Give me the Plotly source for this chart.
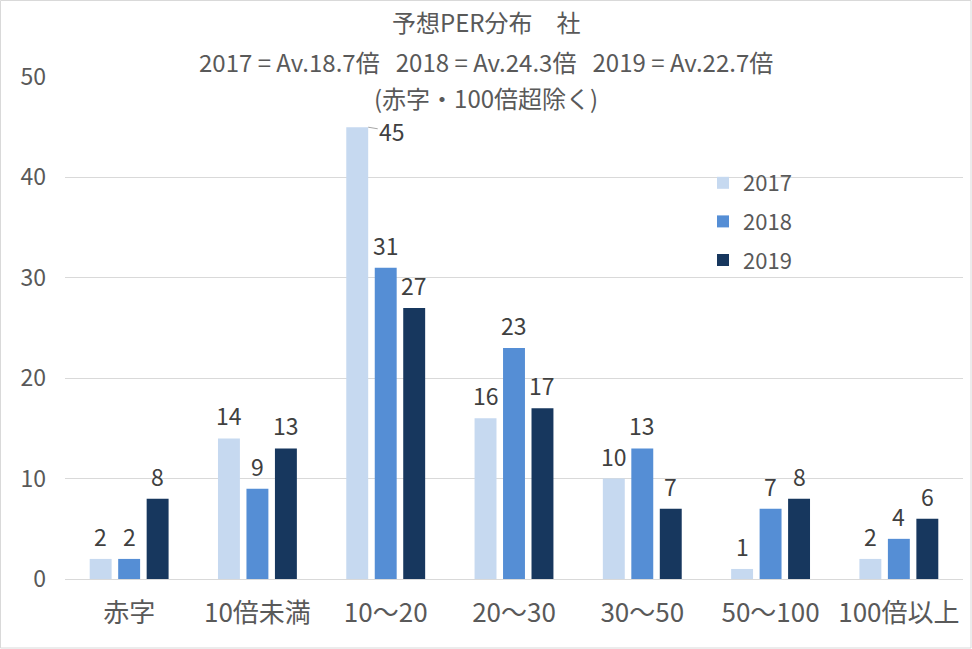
import plotly.graph_objects as go

# PER buckets and company counts per year
categories = ["赤字", "10倍未満", "10〜20", "20〜30", "30〜50", "50〜100", "100倍以上"]
years = ["2017", "2018", "2019"]
counts_2017 = [2, 14, 45, 16, 10, 1, 2]
counts_2018 = [2, 9, 31, 23, 13, 7, 4]
counts_2019 = [8, 13, 27, 17, 7, 8, 6]
y_ticks = [0, 10, 20, 30, 40, 50]

title_lines = [
    "予想PER分布　社",
    "2017 = Av.18.7倍   2018 = Av.24.3倍   2019 = Av.22.7倍",
    "(赤字・100倍超除く)",
]

colors = ["#c6d9f0", "#558ed5", "#17375e"]
FONT = "Noto Sans CJK JP"
GRAY = "#595959"
LABEL = "#404040"

W, H = 972, 649
L, R, T, B = 65, 9, 77, 70
plot_w = W - L - R
plot_h = H - T - B
BARGAP, GROUPGAP = 0.334, 0.23
slot = plot_w / len(categories) * (1 - BARGAP) / 3

fig = go.Figure()
series = [counts_2017, counts_2018, counts_2019]
for i, (yr, vals) in enumerate(zip(years, series)):
    fig.add_trace(go.Bar(
        x=categories, y=vals, name=yr,
        marker=dict(color=colors[i], line=dict(width=0)),
        legendgroup=yr,
    ))
    # data labels, sitting a bit above each bar like excel does
    for j, v in enumerate(vals):
        if i == 0 and j == 2:
            continue
        fig.add_annotation(
            x=categories[j], y=v, xref="x", yref="y",
            text=str(v), showarrow=False,
            xanchor="center", yanchor="bottom",
            xshift=(i - 1) * slot, yshift=4,
            font=dict(family=FONT, size=23, color=LABEL),
        )

# the 45 label is pulled aside with a leader line
fig.add_annotation(
    x=categories[2], y=counts_2017[2], xref="x", yref="y",
    text=str(counts_2017[2]), showarrow=True, arrowhead=0,
    arrowcolor="#a6a6a6", arrowwidth=1,
    xshift=-slot + slot * (1 - GROUPGAP) / 2, ax=24, ay=4, standoff=0,
    font=dict(family=FONT, size=23, color=LABEL),
)

# title, three lines, centred on the whole chart rather than the plot area
title_x = (W / 2 - L) / plot_w
for line, ypix in zip(title_lines, [21, 61, 98]):
    fig.add_annotation(
        x=title_x, xref="paper", y=(H - B - ypix) / plot_h, yref="paper",
        text=line, showarrow=False, xanchor="center", yanchor="middle",
        font=dict(family=FONT, size=24, color=GRAY),
    )

fig.add_shape(
    type="rect", xref="paper", yref="paper",
    x0=-(L - 0.5) / plot_w, x1=1 + (R - 1) / plot_w,
    y0=-(B - 1) / plot_h, y1=1 + (T - 0.5) / plot_h,
    line=dict(color="#d9d9d9", width=1), layer="below",
)

fig.update_layout(
    width=W, height=H,
    margin=dict(l=L, r=R, t=T, b=B),
    paper_bgcolor="white", plot_bgcolor="white",
    barmode="group", bargap=BARGAP, bargroupgap=GROUPGAP,
    font=dict(family=FONT, color=GRAY),
    showlegend=True,
    legend=dict(
        x=(703 - L) / plot_w, y=(H - B - 162) / plot_h,
        xanchor="left", yanchor="top",
        font=dict(family=FONT, size=22, color=GRAY),
        traceorder="grouped", tracegroupgap=7,
        bgcolor="rgba(0,0,0,0)",
    ),
)
fig.update_xaxes(
    showgrid=False, showline=False, ticks="",
    tickfont=dict(family=FONT, size=26, color=GRAY),
    ticklabelstandoff=16,
)
fig.update_yaxes(
    range=[0, 50], tickvals=y_ticks,
    showgrid=True, gridcolor="#d9d9d9", gridwidth=1,
    zeroline=True, zerolinecolor="#d9d9d9", zerolinewidth=1,
    showline=False, ticks="",
    tickfont=dict(family=FONT, size=23, color=GRAY),
    ticklabelstandoff=18,
)

# the page body keeps its default 8px margin otherwise
fig.write_html("out.html", config={"displayModeBar": False},
               post_script="document.body.style.margin='0';")
